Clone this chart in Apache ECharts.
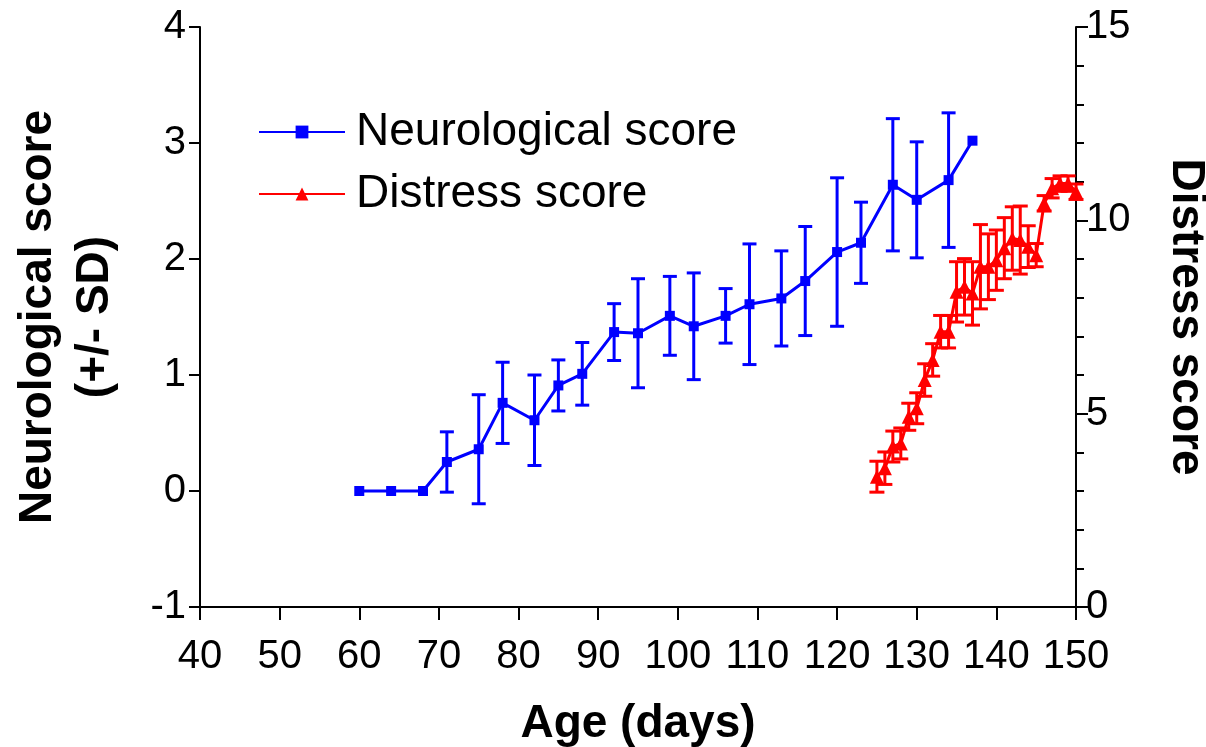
<!DOCTYPE html>
<html>
<head>
<meta charset="utf-8">
<script src="https://cdn.jsdelivr.net/npm/echarts@6/dist/echarts.min.js"></script>
<style>
html,body{margin:0;padding:0;background:#fff;overflow:hidden;width:100%;height:100%;}
#chart{display:block;width:100vw;height:100vh;}
</style>
</head>
<body>
<div id="chart"></div>
<script>
// Neurological score (left axis)
const neuroDays = [60,64,68,71,75,78,82,85,88,92,95,99,102,106,109,113,116,120,123,127,130,134,137];
const neuroMean = [0,0,0,0.25,0.36,0.76,0.61,0.91,1.01,1.37,1.36,1.51,1.42,1.51,1.61,1.66,1.81,2.06,2.14,2.64,2.51,2.68,3.02];
const neuroSD   = [0,0,0,0.26,0.47,0.35,0.39,0.22,0.27,0.245,0.47,0.34,0.46,0.235,0.52,0.41,0.47,0.64,0.35,0.57,0.5,0.58,0];

// Distress score (right axis)
const distressDays = [125,126,127,128,129,130,131,132,133,134,135,136,137,138,139,140,141,142,143,144,145,146,147,148,149,150];
const distressMean = [3.37,3.59,4.15,4.23,4.92,5.14,5.87,6.39,7.12,7.12,8.15,8.28,8.11,8.80,8.80,8.97,9.28,9.53,9.49,9.32,9.10,10.44,10.83,10.95,10.95,10.74];
const distressSD   = [0.4,0.42,0.4,0.4,0.35,0.4,0.42,0.42,0.42,0.42,0.78,0.73,0.82,1.09,0.85,0.78,0.79,0.82,0.88,0.54,0.3,0.2,0.25,0.2,0.2,0.2];

const xTicks = {min:40, max:150, interval:10};
const yLeftTicks = {min:-1, max:4, interval:1};
const yRightTicks = {min:0, max:15, interval:5};

const FONT = '"Liberation Sans", Arial, sans-serif';

function errorBarRenderer(color, capHalf) {
  return function (params, api) {
    const x = api.value(0), y = api.value(1), sd = api.value(2);
    if (!sd) return null;
    const top = api.coord([x, y + sd]);
    const bot = api.coord([x, y - sd]);
    const style = {stroke: color, lineWidth: 3};
    return {
      type: 'group',
      children: [
        {type:'line', shape:{x1:top[0], y1:top[1], x2:bot[0], y2:bot[1]}, style: style},
        {type:'line', shape:{x1:top[0]-capHalf, y1:top[1], x2:top[0]+capHalf, y2:top[1]}, style: style},
        {type:'line', shape:{x1:bot[0]-capHalf, y1:bot[1], x2:bot[0]+capHalf, y2:bot[1]}, style: style}
      ]
    };
  };
}

const chart = echarts.init(document.getElementById('chart'), null, {renderer:'canvas', width:1206, height:747});
chart.setOption({
  animation: false,
  backgroundColor: '#fff',
  textStyle: {fontFamily: FONT, color:'#000'},
  grid: {left: 200, right: 130, top: 27, bottom: 140, containLabel: false, outerBoundsMode: 'none'},
  legend: {
    orient: 'vertical',
    left: 258, top: 105,
    padding: 0,
    itemWidth: 86, itemHeight: 16,
    itemGap: 8,
    textStyle: {fontSize: 46, color:'#000', fontFamily: FONT, lineHeight: 54, padding:[0,0,0,6]},
    data: ['Neurological score', 'Distress score']
  },
  xAxis: {
    type: 'value',
    min: xTicks.min, max: xTicks.max, interval: xTicks.interval,
    name: 'Age (days)',
    nameLocation: 'middle', nameGap: 94,
    nameTextStyle: {fontSize: 46, fontWeight:'bold', color:'#000', fontFamily: FONT},
    axisLine: {onZero:false, lineStyle:{color:'#000', width:2}},
    axisTick: {show:true, inside:false, length:13, lineStyle:{color:'#000', width:2}},
    axisLabel: {fontSize: 40, color:'#000', margin: 30, fontFamily: FONT},
    splitLine: {show:false}
  },
  yAxis: [
    {
      type: 'value', position: 'left',
      min: yLeftTicks.min, max: yLeftTicks.max, interval: yLeftTicks.interval,
      name: 'Neurological score\n(+/- SD)',
      nameLocation: 'middle', nameGap: 76, nameRotate: 90,
      nameTextStyle: {fontSize: 46, fontWeight:'bold', color:'#000', lineHeight: 57, fontFamily: FONT, align:'center'},
      axisLine: {show:true, lineStyle:{color:'#000', width:2}},
      axisTick: {show:true, inside:false, length:11, lineStyle:{color:'#000', width:2}},
      axisLabel: {fontSize: 40, color:'#000', margin: 14, fontFamily: FONT},
      splitLine: {show:false}
    },
    {
      type: 'value', position: 'right',
      min: yRightTicks.min, max: yRightTicks.max, interval: yRightTicks.interval,
      name: 'Distress score',
      nameLocation: 'middle', nameGap: 87, nameRotate: -90,
      nameTextStyle: {fontSize: 46, fontWeight:'bold', color:'#000', fontFamily: FONT},
      axisLine: {show:true, lineStyle:{color:'#000', width:2}},
      axisTick: {show:true, inside:false, length:12, lineStyle:{color:'#000', width:2}},
      minorTick: {show:true, splitNumber:5, length:8, lineStyle:{color:'#000', width:2}},
      axisLabel: {fontSize: 40, color:'#000', margin: 10, fontFamily: FONT},
      splitLine: {show:false}
    }
  ],
  series: [
    {
      name: 'Neurological score',
      type: 'line',
      yAxisIndex: 0,
      data: neuroDays.map((d,i)=>[d, neuroMean[i]]),
      symbol: 'rect', symbolSize: 10,
      lineStyle: {color:'#0000FF', width:3},
      itemStyle: {color:'#0000FF'},
      z: 3
    },
    {
      name: 'Neurological score',
      type: 'custom',
      yAxisIndex: 0,
      data: neuroDays.map((d,i)=>[d, neuroMean[i], neuroSD[i]]),
      encode: {x:0, y:1},
      renderItem: errorBarRenderer('#0000FF', 7),
      silent: true,
      clip: false,
      z: 2
    },
    {
      name: 'Distress score',
      type: 'line',
      yAxisIndex: 1,
      data: distressDays.map((d,i)=>[d, distressMean[i]]),
      symbol: 'triangle', symbolSize: 14,
      lineStyle: {color:'#FF0000', width:3},
      itemStyle: {color:'#FF0000'},
      z: 3
    },
    {
      name: 'Distress score',
      type: 'custom',
      yAxisIndex: 1,
      data: distressDays.map((d,i)=>[d, distressMean[i], distressSD[i]]),
      encode: {x:0, y:1},
      renderItem: errorBarRenderer('#FF0000', 7.5),
      silent: true,
      clip: false,
      z: 2
    }
  ]
});
</script>
</body>
</html>
